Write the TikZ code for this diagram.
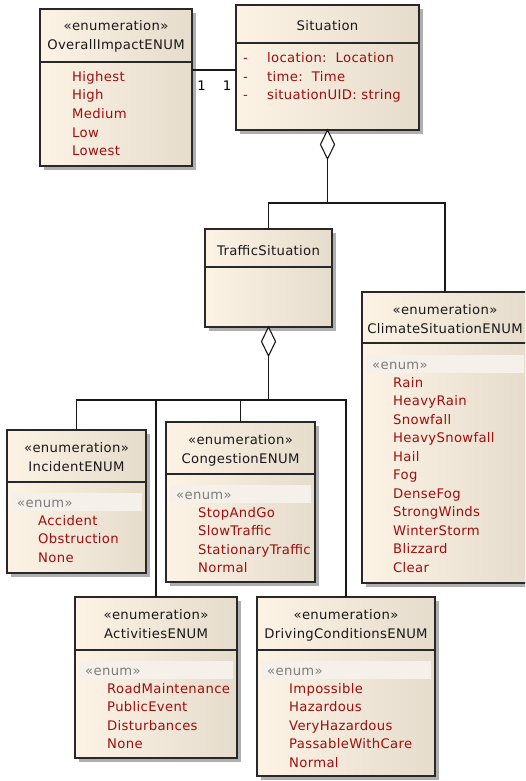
\documentclass[tikz,border=0pt]{standalone}
\usepackage{fontspec}
\setmainfont{DejaVu Sans}
\newfontfamily\umlfam{DejaVu Sans}[LetterSpace=2.5]
\usetikzlibrary{shapes.geometric,shadows,calc}
\definecolor{fillL}{RGB}{252,243,229}
\definecolor{fillR}{RGB}{229,220,204}
\definecolor{boxline}{RGB}{40,40,40}
\definecolor{itemred}{RGB}{158,14,14}
\definecolor{bandcol}{RGB}{245,240,233}
\definecolor{stgray}{RGB}{125,125,125}
\definecolor{shadowgray}{RGB}{175,175,175}
\newcommand\umlfont{\umlfam\fontsize{13.2}{15}\selectfont}
\begin{document}
\begin{tikzpicture}[x=1pt,y=-1pt,
  umlbox/.style={rectangle,draw=boxline,line width=1.1pt,left color=fillL,right color=fillR,
    drop shadow={shadow xshift=4pt,shadow yshift=-4pt,fill=shadowgray,opacity=1},
    anchor=north west,inner sep=0pt,outer sep=0pt},
  divline/.style={draw=boxline,line width=1.1pt},
  band/.style={fill=bandcol,draw=none},
  hdr/.style={font=\umlfont,text=black!90,inner sep=0pt,anchor=base},
  item/.style={font=\umlfont,text=itemred,inner sep=0pt,anchor=base west},
  stereo/.style={font=\umlfont,text=stgray,inner sep=0pt,anchor=base west},
  mult/.style={font=\umlfont,text=black,inner sep=0pt,anchor=base},
  conn/.style={draw=black!90,line width=1.1pt},
  agg/.style={diamond,draw=black!90,line width=1.1pt,fill=white,aspect=0.5,
    minimum width=14pt,minimum height=29pt,inner sep=0pt,outer sep=0pt,anchor=north}
]
\clip (0,0) rectangle (525,781);
\fill[white] (0,0) rectangle (525,781);

% ---------- OverallImpactENUM ----------
\node[umlbox,minimum width=152pt,minimum height=157pt] (oi) at (40,9) {};
\draw[divline] ($(oi.north west)+(0,53)$) -- ($(oi.north east)+(0,53)$);
\node[hdr] (oi-s) at (116,31) {«enumeration»};
\node[hdr] (oi-n) at (116,50) {OverallImpactENUM};
\node[item] (oi-1) at (72,81.5) {Highest};
\node[item] (oi-2) at (72,100) {High};
\node[item] (oi-3) at (72,118.5) {Medium};
\node[item] (oi-4) at (72,137) {Low};
\node[item] (oi-5) at (72,155.5) {Lowest};

% ---------- Situation ----------
\node[umlbox,minimum width=183pt,minimum height=125pt] (sit) at (236,5) {};
\draw[divline] ($(sit.north west)+(0,38)$) -- ($(sit.north east)+(0,38)$);
\node[hdr] (sit-n) at (327.5,31) {Situation};
\node[item] (sit-d1) at (243,63) {-};
\node[item] (sit-d2) at (243,81.5) {-};
\node[item] (sit-d3) at (243,100) {-};
\node[item] (sit-1) at (267,63) {location:\ \ Location};
\node[item] (sit-2) at (267,81.5) {time:\ \ Time};
\node[item] (sit-3) at (267,100) {situationUID:\ string};

% ---------- TrafficSituation ----------
\node[umlbox,minimum width=127pt,minimum height=98pt] (ts) at (205,229) {};
\draw[divline] ($(ts.north west)+(0,38)$) -- ($(ts.north east)+(0,38)$);
\node[hdr] (ts-n) at (268.5,255) {TrafficSituation};

% ---------- ClimateSituationENUM ----------
\node[umlbox,minimum width=166pt,minimum height=291pt] (cs) at (362,292) {};
\draw[divline] ($(cs.north west)+(0,51)$) -- ($(cs.north east)+(0,51)$);
\fill[band] ($(cs.north west)+(4,63)$) rectangle ($(cs.north east)+(-4,81)$);
\node[hdr] (cs-s) at (445,314) {«enumeration»};
\node[hdr] (cs-n) at (445,333) {ClimateSituationENUM};
\node[stereo] (cs-e) at (372,369) {«enum»};
\node[item] (cs-1) at (393,387) {Rain};
\node[item] (cs-2) at (393,405.5) {HeavyRain};
\node[item] (cs-3) at (393,424) {Snowfall};
\node[item] (cs-4) at (393,442.5) {HeavySnowfall};
\node[item] (cs-5) at (393,461) {Hail};
\node[item] (cs-6) at (393,479.5) {Fog};
\node[item] (cs-7) at (393,498) {DenseFog};
\node[item] (cs-8) at (393,516.5) {StrongWinds};
\node[item] (cs-9) at (393,535) {WinterStorm};
\node[item] (cs-10) at (393,553.5) {Blizzard};
\node[item] (cs-11) at (393,572) {Clear};

% ---------- IncidentENUM ----------
\node[umlbox,minimum width=139pt,minimum height=143pt] (inc) at (7,430) {};
\draw[divline] ($(inc.north west)+(0,52)$) -- ($(inc.north east)+(0,52)$);
\fill[band] ($(inc.north west)+(4,63)$) rectangle ($(inc.north east)+(-4,81)$);
\node[hdr] (inc-s) at (76.5,452) {«enumeration»};
\node[hdr] (inc-n) at (76.5,471) {IncidentENUM};
\node[stereo] (inc-e) at (17,507) {«enum»};
\node[item] (inc-1) at (38,525) {Accident};
\node[item] (inc-2) at (38,543.5) {Obstruction};
\node[item] (inc-3) at (38,562) {None};

% ---------- CongestionENUM ----------
\node[umlbox,minimum width=149pt,minimum height=160pt] (con) at (166,422) {};
\draw[divline] ($(con.north west)+(0,52)$) -- ($(con.north east)+(0,52)$);
\fill[band] ($(con.north west)+(4,63)$) rectangle ($(con.north east)+(-4,81)$);
\node[hdr] (con-s) at (240.5,444) {«enumeration»};
\node[hdr] (con-n) at (240.5,463) {CongestionENUM};
\node[stereo] (con-e) at (176,499) {«enum»};
\node[item] (con-1) at (198,517) {StopAndGo};
\node[item] (con-2) at (198,535.5) {SlowTraffic};
\node[item] (con-3) at (198,554) {StationaryTraffic};
\node[item] (con-4) at (198,572.5) {Normal};

% ---------- ActivitiesENUM ----------
\node[umlbox,minimum width=162pt,minimum height=161pt] (act) at (75,597) {};
\draw[divline] ($(act.north west)+(0,53)$) -- ($(act.north east)+(0,53)$);
\fill[band] ($(act.north west)+(4,64)$) rectangle ($(act.north east)+(-4,82)$);
\node[hdr] (act-s) at (156,619) {«enumeration»};
\node[hdr] (act-n) at (156,638) {ActivitiesENUM};
\node[stereo] (act-e) at (85,675) {«enum»};
\node[item] (act-1) at (107,693) {RoadMaintenance};
\node[item] (act-2) at (107,711.5) {PublicEvent};
\node[item] (act-3) at (107,730) {Disturbances};
\node[item] (act-4) at (107,748.5) {None};

% ---------- DrivingConditionsENUM ----------
\node[umlbox,minimum width=178pt,minimum height=179pt] (drv) at (257,597) {};
\draw[divline] ($(drv.north west)+(0,53)$) -- ($(drv.north east)+(0,53)$);
\fill[band] ($(drv.north west)+(4,64)$) rectangle ($(drv.north east)+(-4,82)$);
\node[hdr] (drv-s) at (346,619) {«enumeration»};
\node[hdr] (drv-n) at (346,638) {DrivingConditionsENUM};
\node[stereo] (drv-e) at (267,675) {«enum»};
\node[item] (drv-1) at (289,693) {Impossible};
\node[item] (drv-2) at (289,711.5) {Hazardous};
\node[item] (drv-3) at (289,730) {VeryHazardous};
\node[item] (drv-4) at (289,748.5) {PassableWithCare};
\node[item] (drv-5) at (289,767) {Normal};

% ---------- connectors ----------
\coordinate (asy) at (0,70);
\draw[conn] (oi.east |- asy) -- (sit.west |- asy);
\node[mult] (m1) at (201.5,91) {1};
\node[mult] (m2) at (227,91) {1};

\node[agg] (d1) at (sit.south) {};
\path (d1.south) ++(0,44) coordinate (j1);
\draw[conn] (d1.south) -- (j1);
\draw[conn] (ts.north) |- (j1) -| (cs.north);

\node[agg] (d2) at (ts.south) {};
\path (d2.south) ++(0,44) coordinate (j2);
\draw[conn] (d2.south) -- (j2);
\draw[conn] (inc.north) |- (j2) -| (drv.north);
\draw[conn] (act.north) -- (act.north |- j2);
\draw[conn] (con.north) -- (con.north |- j2);
\end{tikzpicture}
\end{document}
